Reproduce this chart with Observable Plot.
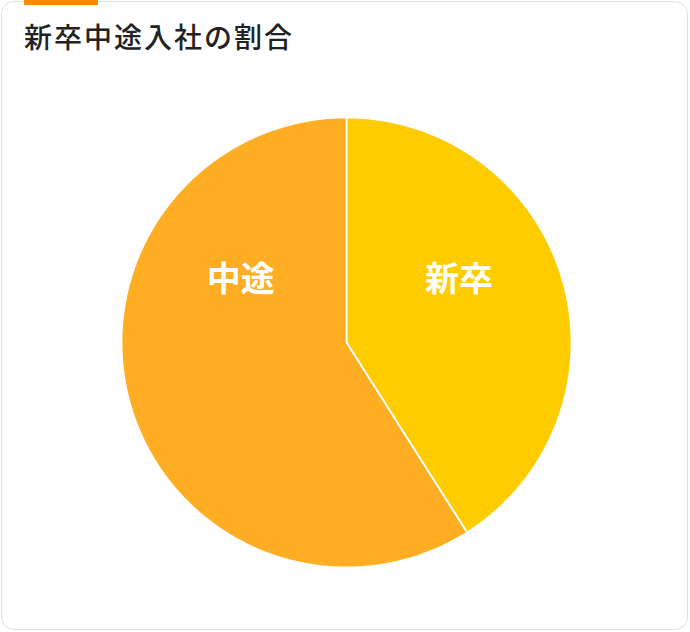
<!DOCTYPE html>
<html>
<head>
<meta charset="utf-8">
<script src="https://cdn.jsdelivr.net/npm/d3@7"></script>
<script src="https://cdn.jsdelivr.net/npm/@observablehq/plot@0.6"></script>
<style>
  html, body { margin: 0; padding: 0; background: #fff; }
  #wrap { position: relative; width: 690px; height: 632px; overflow: hidden; font-family: "Noto Sans CJK JP", "Noto Sans", sans-serif; }
  #card { position: absolute; left: 1px; top: 1px; width: 687px; height: 629px; border: 1.5px solid #e0e0e0; border-radius: 13px; box-sizing: border-box; }
  #accent { position: absolute; left: 24px; top: 0; width: 74px; height: 5px; background: #ff8c00; }
  #title { position: absolute; left: 24px; top: 22px; font-size: 28px; line-height: 1; letter-spacing: 2px; color: #222; font-weight: 500; white-space: nowrap; }
  #chart { position: absolute; left: 0; top: 0; }
</style>
</head>
<body>
<div id="wrap">
  <div id="card"></div>
  <div id="accent"></div>
  <div id="title">新卒中途入社の割合</div>
  <div id="chart"></div>
</div>
<script>
const categories = ["新卒", "中途"];
const values = [41, 59];
const colors = ["#ffcc00", "#ffad22"];
const labelX = [0.5, -0.47];
const labelY = [0.28, 0.28];

const data = categories.map((name, i) => ({name, value: values[i]}));
const arcs = d3.pie().sort(null).value(d => d.value)(data);
const points = [];
for (const a of arcs) {
  points.push({name: a.data.name, x: 0, y: 0});
  const n = 200;
  for (let k = 0; k <= n; k++) {
    const t = a.startAngle + (a.endAngle - a.startAngle) * k / n;
    points.push({name: a.data.name, x: Math.sin(t), y: Math.cos(t)});
  }
}
const labels = categories.map((name, i) => ({name, x: labelX[i], y: labelY[i]}));

const plot = Plot.plot({
  width: 690,
  height: 632,
  marginLeft: 121,
  marginRight: 119,
  marginTop: 117,
  marginBottom: 65,
  x: {domain: [-1, 1], axis: null},
  y: {domain: [-1, 1], axis: null},
  color: {domain: categories, range: colors},
  style: {background: "transparent", overflow: "visible"},
  marks: [
    Plot.line(points, {x: "x", y: "y", z: "name", fill: "name", stroke: "white", strokeWidth: 1.8, curve: "linear-closed", strokeLinejoin: "round"}),
    Plot.text(labels, {x: "x", y: "y", text: "name", fill: "white", fontSize: 34, fontWeight: "bold", fontFamily: "Noto Sans CJK JP", textAnchor: "middle", dy: 1})
  ]
});
document.getElementById("chart").appendChild(plot);
</script>
</body>
</html>
